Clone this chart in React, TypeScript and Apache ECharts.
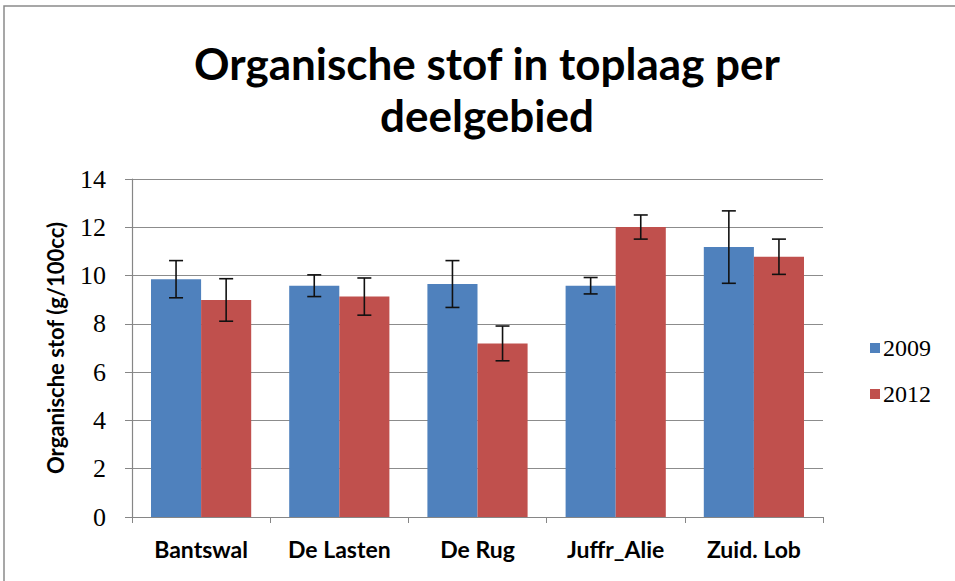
import React, { useEffect, useRef } from "react";
import * as echarts from "echarts";

const categories = ["Bantswal", "De Lasten", "De Rug", "Juffr_Alie", "Zuid. Lob"];
const seriesNames = ["2009", "2012"];
const values2009 = [9.85, 9.58, 9.65, 9.58, 11.18];
const values2012 = [8.99, 9.13, 7.19, 12.01, 10.78];
const err2009 = [0.77, 0.45, 0.97, 0.34, 1.5];
const err2012 = [0.88, 0.77, 0.72, 0.5, 0.73];
const yTicks = { min: 0, max: 14, interval: 2 };

const GAP = 0.275;

function errorSeries(values: number[], errs: number[], sign: number) {
  return {
    type: "custom",
    z: 10,
    silent: true,
    data: values.map((v, i) => [i, v - errs[i], v + errs[i]]),
    renderItem: (params: any, api: any) => {
      const idx = api.value(0);
      const lo = api.coord([idx, api.value(1)]);
      const hi = api.coord([idx, api.value(2)]);
      const band = api.size([1, 0])[0];
      const off = ((band * (1 - GAP)) / 4) * sign;
      const cx = lo[0] + off;
      const cap = 7;
      const st = { stroke: "#111", lineWidth: 1.6 };
      return {
        type: "group",
        children: [
          { type: "line", shape: { x1: cx, y1: lo[1], x2: cx, y2: hi[1] }, style: st },
          { type: "line", shape: { x1: cx - cap, y1: lo[1], x2: cx + cap, y2: lo[1] }, style: st },
          { type: "line", shape: { x1: cx - cap, y1: hi[1], x2: cx + cap, y2: hi[1] }, style: st },
        ],
      };
    },
  };
}

export default function App() {
  const ref = useRef<HTMLDivElement>(null);
  useEffect(() => {
    const chart = echarts.init(ref.current!, null, { renderer: "svg" });
    chart.setOption({
      animation: false,
      backgroundColor: "#fff",
      grid: { left: 132, right: 132, top: 179, bottom: 64 },
      graphic: [
        {
          type: "rect",
          shape: { x: 4, y: 6, width: 1000, height: 1000 },
          style: { fill: "none", stroke: "#8a8a8a", lineWidth: 1.5 },
          silent: true,
        },
        {
          type: "text",
          x: 487,
          y: 37,
          style: {
            text: "Organische stof in toplaag per\ndeelgebied",
            textAlign: "center",
            font: "bold 44px Lato",
            lineHeight: 52,
            fill: "#000",
          },
        },
      ],
      legend: {
        data: seriesNames,
        orient: "vertical",
        left: 865,
        top: 331,
        itemWidth: 10,
        itemHeight: 10,
        itemGap: 22,
        icon: "rect",
        textStyle: { fontFamily: "Liberation Serif", fontSize: 24, color: "#000", padding: [0, 0, 0, -2] },
      },
      xAxis: {
        type: "category",
        data: categories,
        axisLine: { lineStyle: { color: "#868686", width: 1.2 } },
        axisTick: { show: true, length: 6, lineStyle: { color: "#868686" } },
        axisLabel: {
          interval: 0,
          hideOverlap: false,
          fontFamily: "Lato",
          fontWeight: "bold",
          fontSize: 23,
          color: "#000",
          margin: 20,
        },
      },
      yAxis: {
        type: "value",
        min: yTicks.min,
        max: yTicks.max,
        interval: yTicks.interval,
        name: "Organische stof (g/100cc)",
        nameLocation: "middle",
        nameGap: 66,
        nameRotate: 90,
        nameTextStyle: { fontFamily: "Lato", fontWeight: "bold", fontSize: 22, color: "#000" },
        axisLine: { show: true, lineStyle: { color: "#868686", width: 1.2 } },
        axisTick: { show: true, length: 7, inside: false, lineStyle: { color: "#868686" } },
        axisLabel: { fontFamily: "Liberation Serif", fontSize: 26, color: "#000", margin: 26 },
        splitLine: { lineStyle: { color: "#8c8c8c", width: 1.2 } },
      },
      series: [
        {
          name: seriesNames[0],
          type: "bar",
          data: values2009,
          barGap: "0%",
          barCategoryGap: GAP * 100 + "%",
          itemStyle: { color: "#4F81BD" },
        },
        {
          name: seriesNames[1],
          type: "bar",
          data: values2012,
          barGap: "0%",
          barCategoryGap: GAP * 100 + "%",
          itemStyle: { color: "#C0504D" },
        },
        errorSeries(values2009, err2009, -1),
        errorSeries(values2012, err2012, 1),
      ],
    });
    return () => chart.dispose();
  }, []);
  return (
    <div
      ref={ref}
      style={{ position: "absolute", left: 0, top: 0, width: 955, height: 581 }}
    />
  );
}
